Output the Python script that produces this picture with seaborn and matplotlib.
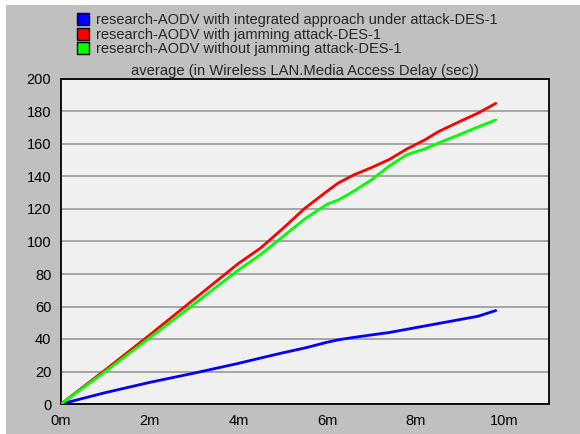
import matplotlib
matplotlib.use("Agg")
import matplotlib.pyplot as plt
from matplotlib.lines import Line2D
from matplotlib.patches import Rectangle
import pandas as pd
import seaborn as sns

# Simulation time (minutes) and average media access delay (sec) per scenario
minutes = [0, 1, 2, 3, 4, 4.5, 5, 5.5, 6, 6.25, 6.6, 7, 7.4, 7.8, 8.2, 8.5, 9, 9.4, 9.8]
integrated = [0, 7, 13.3, 19, 25, 28.3, 31.5, 34.5, 38, 39.5, 41, 42.5, 44, 46, 48, 49.5, 52, 54, 57.5]
jamming = [0, 21, 42.5, 64.5, 86.5, 96, 108, 120.5, 131, 136, 141, 145.5, 150.5, 157, 162.5, 167.5, 174, 179, 185]
no_jamming = [0, 20, 40.8, 61.5, 82.5, 92, 103, 114, 123, 125.5, 131, 138, 146.5, 153.5, 157, 160.5, 166, 170.5, 174.8]

series_names = [
    "research-AODV with integrated approach under attack-DES-1",
    "research-AODV with jamming attack-DES-1",
    "research-AODV without jamming attack-DES-1",
]
series_colors = ["#0000ff", "#ff0000", "#00ff00"]

x_ticks = [0, 2, 4, 6, 8, 10]
x_tick_labels = ["0m", "2m", "4m", "6m", "8m", "10m"]
y_ticks = [0, 20, 40, 60, 80, 100, 120, 140, 160, 180, 200]

title = "average (in Wireless LAN.Media Access Delay (sec))"

frames = []
for name, vals in zip(series_names, [integrated, jamming, no_jamming]):
    frames.append(pd.DataFrame({"time": minutes, "delay": vals, "series": name}))
df = pd.concat(frames, ignore_index=True)

sns.set_style("white")
plt.rcParams["font.family"] = ["Liberation Sans", "DejaVu Sans"]

W, H = 580, 434
fig = plt.figure(figsize=(W / 100, H / 100), dpi=100)
fig.patch.set_facecolor("white")
fig.patches.append(Rectangle((6 / W, 0), 1, 1 - 5 / H, transform=fig.transFigure,
                             facecolor="#c0c0c0", edgecolor="none", zorder=-10))

ax = fig.add_axes([61 / W, 30 / H, (549 - 61) / W, (404 - 79) / H])
ax.set_facecolor("#f0f0f0")

sns.lineplot(data=df, x="time", y="delay", hue="series", palette=series_colors,
             hue_order=series_names, linewidth=2, legend=False, ax=ax, zorder=3)

ax.set_xlim(0, 11)
ax.set_ylim(0, 200)
ax.set_xticks(x_ticks)
ax.set_xticklabels(x_tick_labels)
ax.set_yticks(y_ticks)
ax.set_xlabel("")
ax.set_ylabel("")
ax.yaxis.grid(True, color="#999999", linewidth=1.2)
ax.xaxis.grid(False)
for s in ax.spines.values():
    s.set_color("black")
    s.set_linewidth(1.3)
ax.tick_params(axis="both", direction="out", length=5, width=1.2, color="black",
               labelsize=10.5, labelcolor="black", pad=2)
ax.set_title(title, fontsize=10.6, pad=3)

handles = [Line2D([], [], linestyle="none", marker="s", markersize=8,
                  markerfacecolor=c, markeredgecolor="black", markeredgewidth=1)
           for c in series_colors]
fig.legend(handles, series_names, loc="upper left", bbox_to_anchor=(76 / W, 1 - 13 / H),
           frameon=False, fontsize=10.5, handlelength=1.0, handletextpad=0.35,
           labelspacing=0.05, borderaxespad=0, borderpad=0)

fig.savefig("out.png", dpi=100, facecolor=fig.get_facecolor())
